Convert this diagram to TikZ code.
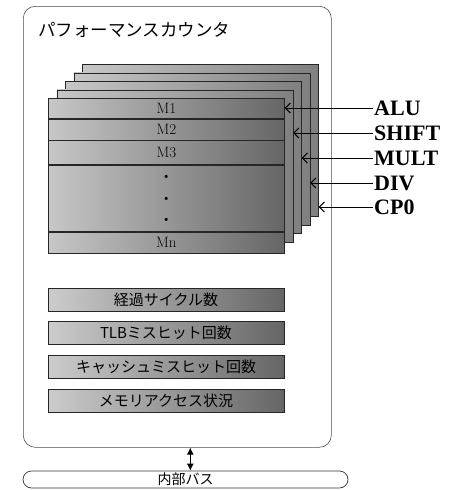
\documentclass[tikz,border=0pt]{standalone}
\usepackage{fontspec}
\newfontfamily\jpfont{Noto Sans CJK JP}
\newfontfamily\lblfont{Liberation Serif}
\usetikzlibrary{arrows.meta,positioning}

\begin{document}
\begin{tikzpicture}[
  x=1pt, y=-1pt,
  frame/.style={draw=black!70, rounded corners=12pt, line width=0.6pt},
  layer/.style={draw=black!85, line width=0.7pt, left color=black!22, right color=black!50, minimum width=236pt, minimum height=152pt, anchor=north west, inner sep=0pt},
  rowbox/.style={draw=black!85, line width=0.7pt, left color=black!22, right color=black!60, minimum width=236pt, anchor=north west, inner sep=0pt, font=\fontsize{15}{15}\selectfont},
  statbar/.style={draw=black!85, line width=0.7pt, left color=black!20, right color=black!60, minimum width=236pt, minimum height=23pt, inner sep=0pt, font=\jpfont\fontsize{15}{15}\selectfont},
  lbl/.style={anchor=west, inner sep=1pt, font=\lblfont\bfseries\fontsize{22}{22}\selectfont},
  arr/.style={{Straight Barb[length=5pt,width=10pt]}-, line width=1pt},
  dbl/.style={{Latex[length=7pt,width=7pt]}-{Latex[length=7pt,width=7pt]}, line width=0.8pt},
]
  \useasboundingbox (0,0) rectangle (448,490);

  % Outer frame
  \node[frame, minimum width=308pt, minimum height=441pt, anchor=north west] (pc) at (23,6) {};
  \node[anchor=west, inner sep=0pt, font=\jpfont\fontsize{17.5}{17.5}\selectfont] (title) at (38,30) {パフォーマンスカウンタ};

  % Stacked register layers
  \foreach \i in {4,3,2,1}
    \node[layer] (L\i) at (48+8.5*\i, 98-8.5*\i) {};

  \node[rowbox, minimum height=20pt] (m1) at (48,98) {M1};
  \node[rowbox, minimum height=21pt, below=0pt of m1] (m2) {M2};
  \node[rowbox, minimum height=24pt, below=0pt of m2] (m3) {M3};
  \node[rowbox, minimum height=66pt, below=0pt of m3, align=center, font=\bfseries\fontsize{22}{21.5}\selectfont] (dots) {.\\.\\.};
  \node[rowbox, minimum height=21pt, below=0pt of dots] (mn) {Mn};

  % Unit inputs
  \node[lbl] (alu) at (373,108) {ALU};
  \node[lbl] (shift) at (373,133) {SHIFT};
  \node[lbl] (mult) at (373,158) {MULT};
  \node[lbl] (div) at (373,183) {DIV};
  \node[lbl] (cp0) at (373,207) {CP0};

  \draw[arr] (alu.west -| m1.east) -- (alu.west);
  \draw[arr] (shift.west -| L1.east) -- (shift.west);
  \draw[arr] (mult.west -| L2.east) -- (mult.west);
  \draw[arr] (div.west -| L3.east) -- (div.west);
  \draw[arr] (cp0.west -| L4.east) -- (cp0.west);

  % Status counters
  \node[statbar] (cyc) at (166,299.5) {経過サイクル数};
  \node[statbar, below=10pt of cyc] (tlb) {TLBミスヒット回数};
  \node[statbar, below=10pt of tlb] (cache) {キャッシュミスヒット回数};
  \node[statbar, below=10pt of cache] (mem) {メモリアクセス状況};

  % Internal bus
  \node[draw=black!80, line width=0.7pt, rounded corners=8.5pt, minimum width=325pt, minimum height=17pt, inner sep=0pt, font=\jpfont\fontsize{14}{14}\selectfont] (bus) at (185.5,479.5) {内部バス};
  \draw[dbl] ([xshift=13pt]pc.south) -- ([xshift=13pt]pc.south |- bus.north);
\end{tikzpicture}
\end{document}
